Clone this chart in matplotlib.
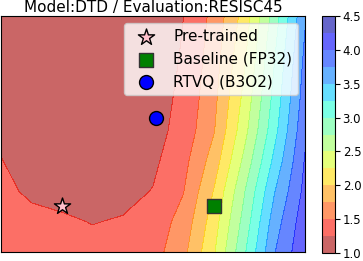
import numpy as np
import matplotlib
matplotlib.use("Agg")
import matplotlib.pyplot as plt

# grid of the loss surface
x_grid = [-0.4, -0.2, 0.0, 0.2, 0.4, 0.6, 0.8, 1.0, 1.2, 1.4, 1.6]
y_grid = [-0.3, -0.1, 0.1, 0.3, 0.5, 0.7, 0.9, 1.1, 1.3]
z_grid = [
    [1.42, 1.38, 1.35, 1.33, 1.34, 1.40, 1.68, 2.22, 2.96, 3.74, 4.20],
    [1.38, 1.33, 1.29, 1.24, 1.27, 1.36, 1.59, 2.13, 2.84, 3.63, 4.15],
    [1.32, 1.20, 1.16, 1.14, 1.17, 1.26, 1.49, 2.01, 2.73, 3.49, 4.07],
    [1.26, 1.12, 1.08, 1.07, 1.09, 1.20, 1.42, 1.86, 2.56, 3.32, 4.02],
    [1.20, 1.10, 1.06, 1.05, 1.07, 1.16, 1.34, 1.73, 2.41, 3.17, 3.95],
    [1.15, 1.08, 1.05, 1.04, 1.06, 1.14, 1.31, 1.68, 2.32, 3.09, 3.88],
    [1.12, 1.06, 1.04, 1.04, 1.06, 1.13, 1.28, 1.64, 2.24, 3.02, 3.83],
    [1.10, 1.05, 1.04, 1.04, 1.06, 1.12, 1.26, 1.60, 2.16, 2.94, 3.77],
    [1.10, 1.05, 1.04, 1.04, 1.06, 1.12, 1.245, 1.56, 2.08, 2.85, 3.70],
]

# model points
pretrained = (0.0, 0.0)
baseline = (1.0, 0.0)
rtvq = (0.62, 0.58)

levels = np.arange(1.0, 4.75, 0.25)
cbar_ticks = [1.0, 1.5, 2.0, 2.5, 3.0, 3.5, 4.0, 4.5]

fig = plt.figure(figsize=(3.63, 2.61), dpi=100)
ax = fig.add_axes([1 / 363, 9 / 261, 304 / 363, 236 / 261])

X, Y = np.meshgrid(x_grid, y_grid)
cs = ax.contourf(X, Y, np.array(z_grid), levels=levels, cmap="jet_r", alpha=0.6)

ax.scatter(*pretrained, marker="*", s=150, color="pink", edgecolor="black",
           linewidth=1, zorder=3, label="Pre-trained")
ax.scatter(*baseline, marker="s", s=95, color="green", edgecolor="#333333",
           linewidth=1, zorder=3, label="Baseline (FP32)")
ax.scatter(*rtvq, marker="o", s=100, color="blue", edgecolor="black",
           linewidth=1, zorder=3, label="RTVQ (B3O2)")

ax.set_xlim(-0.4, 1.6)
ax.set_ylim(-0.3, 1.25)
ax.set_xticks([])
ax.set_yticks([])
ax.set_title("Model:DTD / Evaluation:RESISC45", fontsize=11, pad=3)
ax.legend(loc="upper right", fontsize=11, borderaxespad=0.45)

cax = fig.add_axes([322 / 363, 8 / 261, 13 / 363, 237 / 261])
cb = fig.colorbar(cs, cax=cax, ticks=cbar_ticks)
cb.ax.tick_params(labelsize=8.5, pad=2)
cb.ax.set_yticklabels(["%.1f" % t for t in cbar_ticks])

fig.savefig("out.png", dpi=100)
